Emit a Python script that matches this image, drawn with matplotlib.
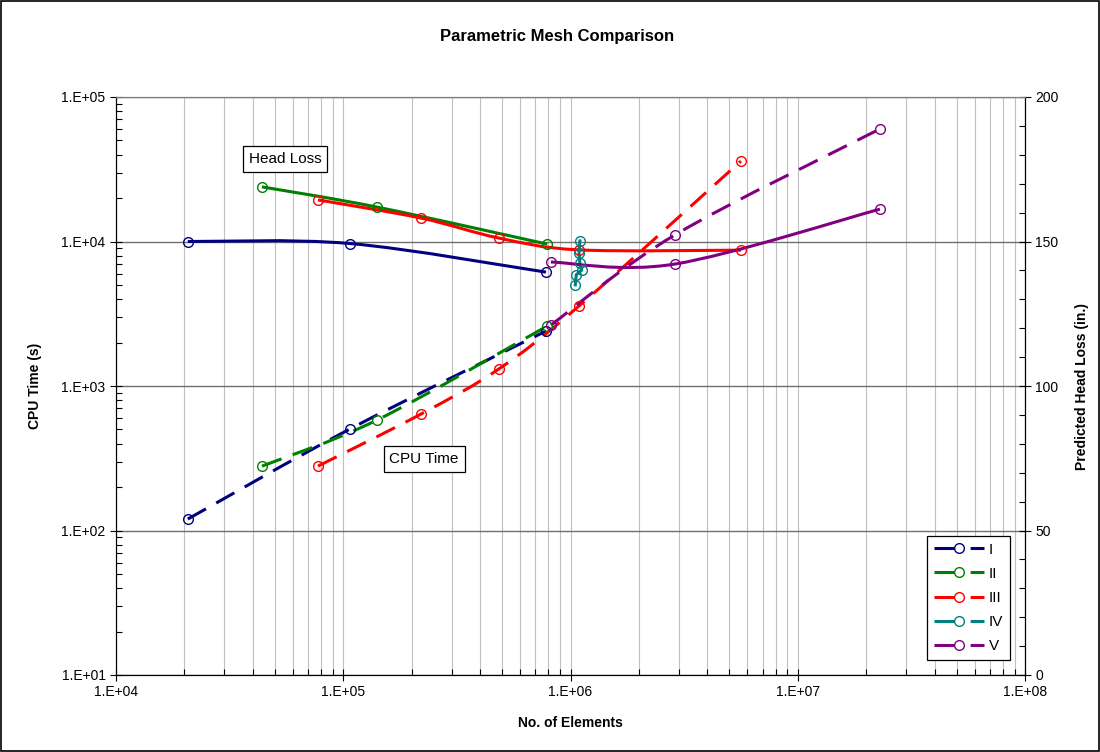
import numpy as np
import matplotlib
matplotlib.use('Agg')
import matplotlib.pyplot as plt
from matplotlib.path import Path
from matplotlib.patches import PathPatch, Rectangle
from matplotlib.lines import Line2D
from matplotlib.ticker import LogLocator, FuncFormatter, MultipleLocator, NullFormatter

plt.rcParams['font.family'] = ['Liberation Sans', 'DejaVu Sans']
plt.rcParams['lines.scale_dashes'] = False

# values: no. of elements, CPU time (s), head loss (in.)
names = ['I', 'II', 'III', 'IV', 'V']
colors = ['#000080', '#008000', '#FF0000', '#008080', '#800080']

elem_I = [2.07e4, 1.07e5, 7.8e5]
cpu_I = [120, 504, 2400]
hl_I = [150.0, 149.3, 139.4]

elem_II = [4.39e4, 1.41e5, 7.9e5]
cpu_II = [279, 582, 2600]
hl_II = [168.9, 161.9, 149.1]

elem_III = [7.74e4, 2.2e5, 4.84e5, 1.09e6, 5.62e6]
cpu_III = [279, 640, 1313, 3580, 36000]
hl_III = [164.4, 158.1, 151.2, 147.1, 147.0]

elem_IV = [1.10e6, 1.09e6, 1.10e6, 1.12e6, 1.06e6, 1.05e6]
hl_IV = [150.2, 146.0, 142.5, 140.1, 138.5, 135.0]

elem_V = [8.2e5, 2.88e6, 2.3e7]
cpu_V = [2640, 11100, 60100]
hl_V = [142.9, 142.2, 161.2]

series = [
    (elem_I, cpu_I, hl_I),
    (elem_II, cpu_II, hl_II),
    (elem_III, cpu_III, hl_III),
    (elem_IV, None, hl_IV),
    (elem_V, cpu_V, hl_V),
]


def smooth_path(xs, ys, logy):
    # excel-style smoothed line: bezier segments built in log-x (and log-y) space
    u = np.log10(np.asarray(xs, float))
    v = np.log10(np.asarray(ys, float)) if logy else np.asarray(ys, float)
    pts = np.column_stack([u, v])
    n = len(pts)
    verts = [pts[0]]
    codes = [Path.MOVETO]
    for i in range(n - 1):
        p0 = pts[i - 1] if i > 0 else pts[i]
        p1, p2 = pts[i], pts[i + 1]
        p3 = pts[i + 2] if i + 2 < n else pts[i + 1]
        verts += [p1 + (p2 - p0) / 6, p2 - (p3 - p1) / 6, p2]
        codes += [Path.CURVE4] * 3
    verts = np.array(verts)
    verts[:, 0] = 10 ** verts[:, 0]
    if logy:
        verts[:, 1] = 10 ** verts[:, 1]
    return Path(verts, codes)


fig = plt.figure(figsize=(11, 7.52), dpi=100)
ax = fig.add_axes([116/1100, 1-675/752, 909/1100, 578/752])
ax2 = ax.twinx()

lw = 2.2
ms = 7
for (el, cpu, hl), c in zip(series, colors):
    if cpu is not None:
        ax.add_patch(PathPatch(smooth_path(el, cpu, True), fill=False, edgecolor=c,
                               lw=lw, linestyle=(0, (15, 8.5)), zorder=3))
        ax.plot(el, cpu, 'o', mfc='none', mec=c, ms=ms, mew=1.0, zorder=4)
    if c == '#008080':
        ax2.plot(el, hl, '-', color=c, lw=lw, zorder=3)
    else:
        ax2.add_patch(PathPatch(smooth_path(el, hl, False), fill=False, edgecolor=c,
                                lw=lw, zorder=3))
    ax2.plot(el, hl, 'o', mfc='none', mec=c, ms=ms, mew=1.0, zorder=4)

ax.set_xscale('log')
ax.set_yscale('log')
ax.set_xlim(1e4, 1e8)
ax.set_ylim(1e1, 1e5)
ax2.set_ylim(0, 200)

fmt = FuncFormatter(lambda v, p: '1.E+%02d' % int(round(np.log10(v))))
ax.xaxis.set_major_locator(LogLocator(base=10, numticks=10))
ax.xaxis.set_minor_locator(LogLocator(base=10, subs=np.arange(2, 10), numticks=20))
ax.xaxis.set_major_formatter(fmt)
ax.xaxis.set_minor_formatter(NullFormatter())
ax.yaxis.set_major_locator(LogLocator(base=10, numticks=10))
ax.yaxis.set_minor_locator(LogLocator(base=10, subs=np.arange(2, 10), numticks=20))
ax.yaxis.set_major_formatter(fmt)
ax.yaxis.set_minor_formatter(NullFormatter())
ax2.yaxis.set_major_locator(MultipleLocator(50))
ax2.yaxis.set_minor_locator(MultipleLocator(10))

ax.set_axisbelow(True)
ax.grid(which='both', axis='x', color='#c0c0c0', lw=0.8)
ax.grid(which='major', axis='y', color='#707070', lw=1.0)

for a in (ax, ax2):
    a.tick_params(which='major', direction='inout', length=8, width=0.8, labelsize=10, colors='black')
    a.tick_params(which='minor', direction='in', length=4, width=0.8)
    a.spines['top'].set_color('#808080')
    for s in ('left', 'right', 'bottom'):
        a.spines[s].set_color('black')

ax.set_xlabel('No. of Elements', fontsize=10, fontweight='bold', labelpad=12)
ax.set_ylabel('CPU Time (s)', fontsize=10, fontweight='bold', labelpad=14)
ax2.set_ylabel('Predicted Head Loss (in.)', fontsize=10, fontweight='bold', labelpad=12)
fig.text(0.506, 1-37/752, 'Parametric Mesh Comparison', fontsize=12, fontweight='bold',
         ha='center', va='center')

box = dict(boxstyle='square,pad=0.38', facecolor='white', edgecolor='black', lw=0.9)
ax.text(0.186, 0.893, 'Head Loss', transform=ax.transAxes, fontsize=11,
        ha='center', va='center', bbox=box, zorder=5)
ax.text(0.339, 0.374, 'CPU Time', transform=ax.transAxes, fontsize=11,
        ha='center', va='center', bbox=box, zorder=5)

handles = [Line2D([], [], color=c, lw=lw, marker='o', mfc='white', mec=c, ms=ms, mew=1.0,
                  dashes=(18, 8, 10, 100)) for c in colors]
leg = ax2.legend(handles, names, loc='lower right', bbox_to_anchor=(0.9835, 0.026),
                 fontsize=11, numpoints=1, handlelength=3.27, handletextpad=0.3,
                 labelspacing=0.66, borderpad=0.45, borderaxespad=0, fancybox=False,
                 framealpha=1, edgecolor='black')
leg.get_frame().set_linewidth(0.9)

fig.patches.append(Rectangle((0.001, 0.001), 0.998, 0.998, transform=fig.transFigure,
                             fill=False, edgecolor='black', lw=1.2))

fig.savefig('out.png', dpi=100)
